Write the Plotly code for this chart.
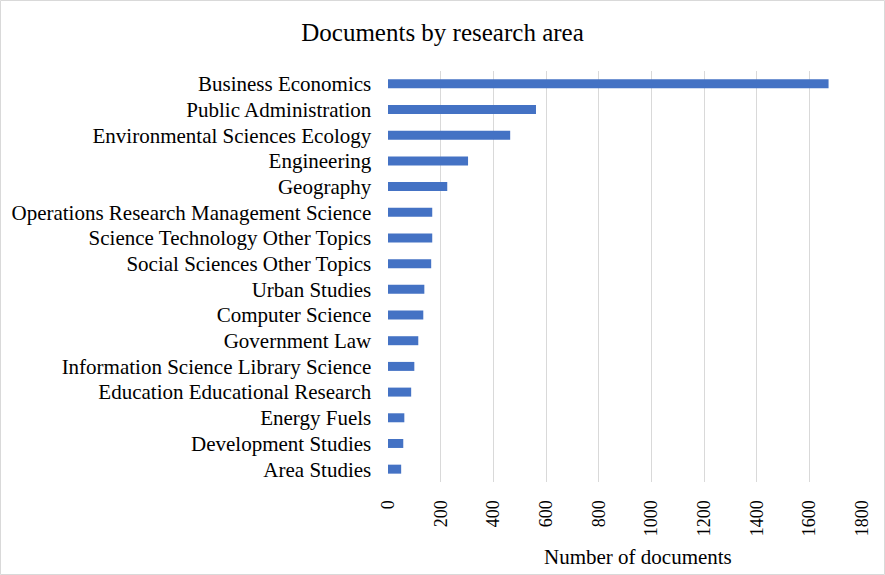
import plotly.graph_objects as go

categories = ["Business Economics", "Public Administration", "Environmental Sciences Ecology",
              "Engineering", "Geography", "Operations Research Management Science",
              "Science Technology Other Topics", "Social Sciences Other Topics", "Urban Studies",
              "Computer Science", "Government Law", "Information Science Library Science",
              "Education Educational Research", "Energy Fuels", "Development Studies", "Area Studies"]
values = [1673, 562, 464, 304, 225, 168, 168, 164, 138, 134, 115, 100, 88, 62, 58, 50]
x_ticks = [0, 200, 400, 600, 800, 1000, 1200, 1400, 1600, 1800]

W, H = 885, 575
L, R, T, B = 388, 23, 71, 93

fig = go.Figure(go.Bar(
    y=categories, x=values, orientation="h",
    marker=dict(color="#4472c4", line=dict(width=0)),
    width=0.35,
))

font_family = "Liberation Serif, Times New Roman, serif"
fig.update_layout(
    width=W, height=H,
    margin=dict(l=L, r=R, t=T, b=B, pad=0),
    paper_bgcolor="white", plot_bgcolor="white",
    font=dict(family=font_family, size=20, color="#000000"),
    title=dict(text="Documents by research area", x=0.5, xanchor="center",
               y=1 - 32 / H, yanchor="middle", font=dict(size=25, family=font_family)),
    showlegend=False,
    xaxis=dict(range=[0, 1800], tickvals=x_ticks, ticktext=[str(v) for v in x_ticks],
               tickangle=-90, showgrid=True, gridcolor="#d9d9d9", gridwidth=1,
               zeroline=False, showline=False, ticks="outside", ticklen=10,
               tickcolor="rgba(0,0,0,0)",
               tickfont=dict(size=18)),
    yaxis=dict(autorange="reversed", showgrid=False, zeroline=False, showline=False,
               ticks="", ticksuffix="   ", tickfont=dict(size=21)),
)

pw = W - L - R
ph = H - T - B
fig.add_annotation(text="Number of documents", xref="paper", yref="paper",
                   x=(638 - L) / pw, y=-(557 - (H - B)) / ph,
                   xanchor="center", yanchor="middle", showarrow=False,
                   font=dict(size=21, family=font_family, color="#000000"))
fig.add_shape(type="rect", xref="paper", yref="paper",
              x0=(-L + 0.5) / pw, x1=1 + (R - 0.5) / pw,
              y0=(-B + 0.5) / ph, y1=1 + (T - 0.5) / ph,
              line=dict(color="#d9d9d9", width=1), layer="below")

fig.write_html("out.html")
